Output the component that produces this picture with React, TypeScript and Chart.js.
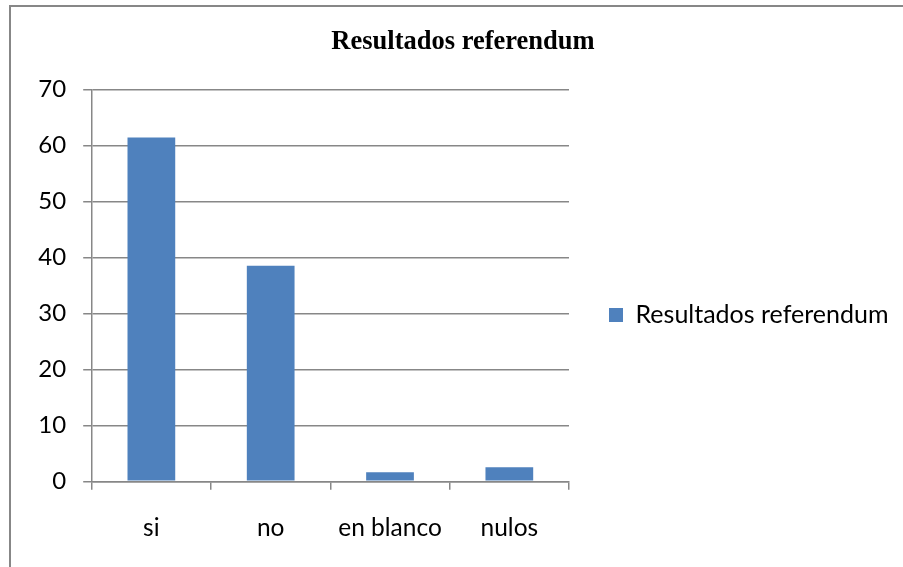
import React, { useEffect, useRef } from "react";
import { Chart, registerables } from "chart.js";

Chart.register(...registerables);

const categories = ["si", "no", "en blanco", "nulos"];
const seriesLabel = "Resultados referendum";
const seriesValues = [61.4, 38.5, 1.6, 2.5];
const chartTitle = "Resultados referendum";
const yMin = 0;
const yMax = 70;
const yStep = 10;

const GRAY = "#878787";
const TITLE_CENTER_X = 463;

const framePlugin = {
  id: "frame",
  afterLayout(chart: any) {
    const t = chart.titleBlock;
    if (t) {
      const d = TITLE_CENTER_X - (t.left + t.right) / 2;
      t.left += d;
      t.right += d;
    }
  },
  beforeDraw(chart: any) {
    const ctx = chart.ctx;
    ctx.save();
    ctx.fillStyle = "#ffffff";
    ctx.fillRect(0, 0, chart.width, chart.height);
    ctx.strokeStyle = GRAY;
    ctx.lineWidth = 2;
    ctx.beginPath();
    ctx.moveTo(10, chart.height + 2);
    ctx.lineTo(10, 6);
    ctx.lineTo(chart.width + 2, 6);
    ctx.stroke();
    ctx.restore();
  },
};

export default function App() {
  const ref = useRef<HTMLCanvasElement | null>(null);
  useEffect(() => {
    document.body.style.margin = "0";
    const canvas = ref.current;
    if (!canvas) return;
    const chart = new Chart(canvas, {
      type: "bar",
      data: {
        labels: categories,
        datasets: [
          {
            label: seriesLabel,
            data: seriesValues,
            backgroundColor: "#4F81BD",
            borderWidth: 0,
            categoryPercentage: 1,
            barPercentage: 0.4,
          },
        ],
      },
      options: {
        animation: false,
        responsive: false,
        devicePixelRatio: 1,
        layout: { padding: { left: 30, right: 16, top: 0, bottom: 0 } },
        font: { family: "Lato", size: 24 },
        plugins: {
          title: {
            display: true,
            text: chartTitle,
            color: "#000",
            font: { family: "'Liberation Serif'", size: 26.5, weight: "bold", lineHeight: 1.2 },
            padding: { top: 26.1, bottom: 31.4 },
          },
          legend: {
            display: true,
            position: "right",
            maxWidth: 318,
            title: {
              display: true,
              text: "",
              font: { size: 12, lineHeight: 1.2 },
              padding: { top: 0, bottom: 48.6 },
            },
            labels: {
              boxWidth: 14,
              boxHeight: 14,
              padding: 40,
              color: "#000",
              font: { family: "Lato", size: 25 },
            },
          },
          tooltip: { enabled: false },
        },
        scales: {
          x: {
            offset: true,
            grid: {
              display: true,
              offset: true,
              drawOnChartArea: false,
              drawTicks: true,
              tickLength: 8.5,
              color: GRAY,
              lineWidth: 1.5,
            },
            border: { display: true, color: GRAY, width: 1.5 },
            ticks: {
              color: "#000",
              font: { family: "Lato", size: 24.5, lineHeight: 1.2 },
              padding: 23.5,
              maxRotation: 0,
              autoSkip: false,
            },
            afterFit(scale: any) {
              scale.height = 567 - 481.3;
            },
          },
          y: {
            min: yMin,
            max: yMax,
            grid: {
              display: true,
              drawTicks: true,
              tickLength: 8.5,
              color: GRAY,
              lineWidth: 1.5,
            },
            border: { display: true, color: GRAY, width: 1.5 },
            ticks: {
              stepSize: yStep,
              color: "#000",
              font: { family: "Lato", size: 24, lineHeight: 1.2 },
              padding: 17,
            },
            afterFit(scale: any) {
              scale.width = 91.7 - 30;
            },
          },
        },
      },
      plugins: [framePlugin],
    } as any);
    return () => chart.destroy();
  }, []);
  return (
    <div style={{ width: 903, height: 567 }}>
      <canvas ref={ref} width={903} height={567} style={{ display: "block" }} />
    </div>
  );
}
